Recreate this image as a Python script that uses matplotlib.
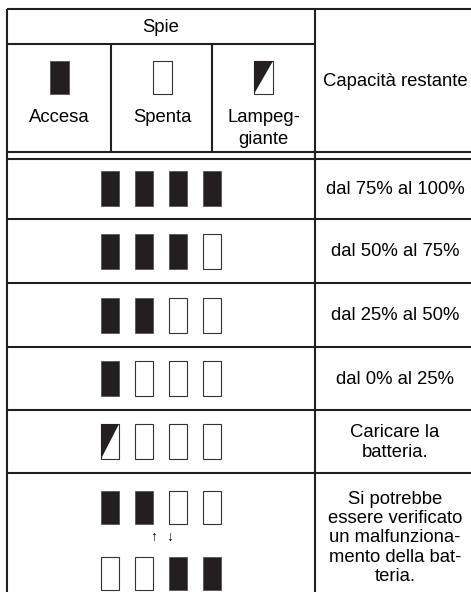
import matplotlib
matplotlib.use("Agg")
from matplotlib import pyplot as plt
from matplotlib.patches import Rectangle, Polygon

plt.rcParams['font.family'] = ['Liberation Sans', 'DejaVu Sans']

# testi
header_title = "Spie"
legend_labels = ["Accesa", "Spenta", "Lampeg-\ngiante"]
legend_states = ["on", "off", "blink"]
capacity_header = "Capacità restante"

# stato delle 4 spie per ogni riga
row_states = [
    [["on", "on", "on", "on"]],
    [["on", "on", "on", "off"]],
    [["on", "on", "off", "off"]],
    [["on", "off", "off", "off"]],
    [["blink", "off", "off", "off"]],
    [["on", "on", "off", "off"], ["off", "off", "on", "on"]],
]
row_texts = [
    "dal 75% al 100%",
    "dal 50% al 75%",
    "dal 25% al 50%",
    "dal 0% al 25%",
    "Caricare la\nbatteria.",
    "Si potrebbe\nessere verificato\nun malfunziona-\nmento della bat-\nteria.",
]

W, H = 471, 592
fig = plt.figure(figsize=(W / 100, H / 100), dpi=100)
ax = fig.add_axes([0, 0, 1, 1])
ax.set_xlim(0, W)
ax.set_ylim(H, 0)
ax.axis('off')

LW = 1.5
FS = 13.3
DARK = '#231f20'

def hline(y, x0=7, x1=W):
    ax.plot([x0, x1], [y, y], color=DARK, lw=LW, solid_capstyle='butt')

def vline(x, y0, y1):
    ax.plot([x, x], [y0, y1], color=DARK, lw=LW, solid_capstyle='butt')

def spia(xc, yc, state, w=18, h=34):
    x0, y0 = xc - w / 2, yc - h / 2
    if state == "on":
        ax.add_patch(Rectangle((x0, y0), w, h, facecolor=DARK, edgecolor='#555555', lw=0.6))
    elif state == "off":
        ax.add_patch(Rectangle((x0, y0), w, h, facecolor='white', edgecolor='#333333', lw=0.8))
    else:
        ax.add_patch(Rectangle((x0, y0), w, h, facecolor='white', edgecolor='#333333', lw=0.8))
        ax.add_patch(Polygon([(x0, y0), (x0 + w, y0), (x0, y0 + h)], closed=True,
                             facecolor=DARK, edgecolor='none'))

# griglia
top, sub, dbl1, dbl2 = 9, 44, 152, 158.5
row_edges = [dbl2, 219, 283, 347, 410, 473, H]
col_split = 315
hline(top)
hline(sub, 7, col_split)
hline(dbl1)
hline(dbl2)
for y in row_edges[1:-1]:
    hline(y)
vline(7, top, H)
vline(col_split, top, H)
vline(111, sub, dbl1)
vline(212, sub, dbl1)

# intestazione
ax.text(161, 27, header_title, ha='center', va='center', fontsize=FS)
ax.text(395, 82, capacity_header, ha='center', va='center', fontsize=FS)
legend_x = [59.5, 162, 263.5]
for xc, lab, st in zip(legend_x, legend_labels, legend_states):
    spia(xc, 77.5, st, w=19, h=33)
    for k, ln in enumerate(lab.split('\n')):
        ax.text(xc, 118 + 22 * k, ln, ha='center', va='center', fontsize=FS)

# righe
spia_x = [110, 144, 178, 212]
for i, (states, txt) in enumerate(zip(row_states, row_texts)):
    y0, y1 = row_edges[i], row_edges[i + 1]
    yc = (y0 + y1) / 2
    if len(states) == 1:
        for xc, st in zip(spia_x, states[0]):
            spia(xc, yc, st, h=35)
        ax.text(395, yc + 1, txt, ha='center', va='center', fontsize=FS, linespacing=1.2)
    else:
        for xc, st in zip(spia_x, states[0]):
            spia(xc, 507, st, h=33)
        for xc, st in zip(spia_x, states[1]):
            spia(xc, 573, st, h=33)
        ax.text(154, 537, "↑", ha='center', va='center', fontsize=10)
        ax.text(170, 537, "↓", ha='center', va='center', fontsize=10)
        ax.text(395, 538, txt, ha='center', va='center', fontsize=FS, linespacing=1.18)

fig.savefig('out.png', dpi=100)
